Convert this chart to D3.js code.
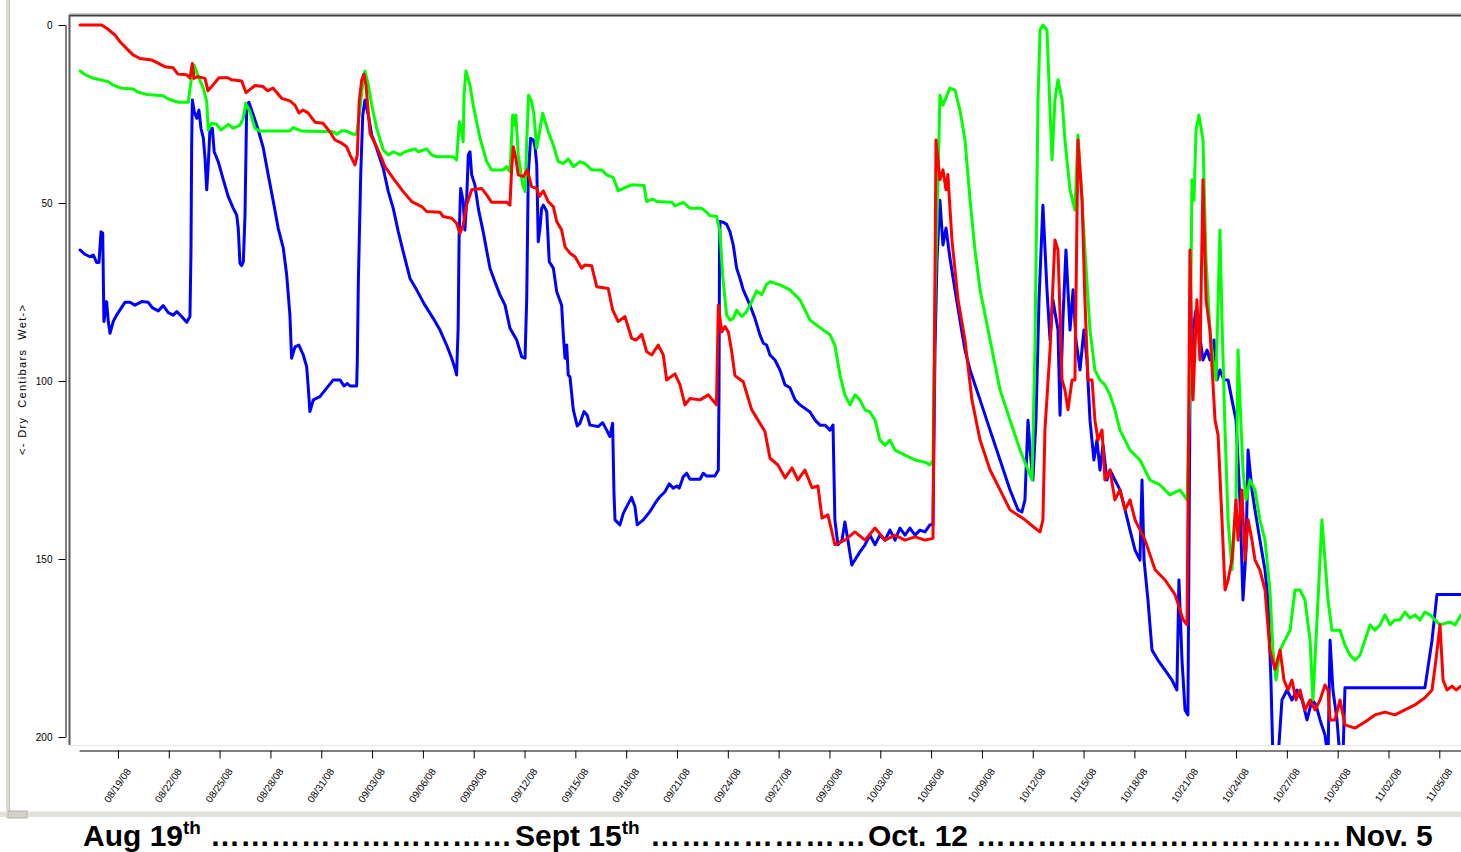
<!DOCTYPE html>
<html>
<head>
<meta charset="utf-8">
<script src="https://cdn.jsdelivr.net/npm/d3@7"></script>
<style>
  body { margin: 0; background: #fff; }
  svg { display: block; font-family: Arial, "Liberation Sans", sans-serif; }
</style>
</head>
<body>
<svg id="chart" width="1461" height="852"></svg>
<script>
// Soil moisture tension, centibars (0 = wet, 200 = dry).
// Each point is [days after 08/19/08 00:00, centibars].
const blueSeries = [
  [-2.24,63.2],[-1.95,64.4],[-1.65,65.1],[-1.46,64.6],[-1.26,66.7],[-1.12,66.7],[-1.00,58.1],[-0.90,58.5],
  [-0.83,83.3],[-0.67,77.7],[-0.57,83.3],[-0.47,86.6],[-0.28,83.3],[-0.08,81.5],[0.41,77.9],[0.71,77.9],
  [1.00,78.7],[1.40,77.7],[1.79,77.9],[2.02,79.4],[2.38,80.3],[2.67,78.8],[2.97,80.8],[3.26,81.5],
  [3.47,80.5],[3.76,81.9],[4.06,83.5],[4.25,81.9],[4.31,63.7],[4.35,34.6],[4.39,21.1],[4.50,24.3],
  [4.65,26.2],[4.78,23.9],[4.90,29.0],[5.04,31.8],[5.14,37.5],[5.24,46.3],[5.33,39.3],[5.43,29.5],
  [5.57,29.0],[5.68,35.6],[5.92,38.4],[6.22,43.5],[6.51,48.2],[6.81,51.5],[7.01,53.4],[7.10,57.1],
  [7.20,66.9],[7.30,67.6],[7.40,66.5],[7.50,53.4],[7.60,22.5],[7.73,21.7],[7.99,25.3],[8.28,29.5],
  [8.58,34.6],[8.87,42.1],[9.17,49.6],[9.46,57.1],[9.76,62.7],[9.96,70.2],[10.15,81.5],[10.25,93.6],
  [10.45,90.4],[10.68,89.9],[10.94,92.7],[11.14,96.0],[11.23,101.6],[11.33,108.6],[11.53,105.3],[11.92,104.4],
  [12.32,102.0],[12.71,99.7],[13.11,99.7],[13.34,101.4],[13.54,100.7],[13.70,101.4],[14.09,101.4],[14.13,94.1],
  [14.19,72.1],[14.33,42.1],[14.45,25.3],[14.58,21.1],[14.78,25.3],[14.98,30.9],[15.27,34.6],[15.66,40.3],
  [15.96,46.8],[16.25,51.5],[16.55,58.1],[16.84,63.7],[17.24,71.2],[17.63,74.4],[18.12,78.7],[18.61,82.4],
  [19.01,85.7],[19.40,89.9],[19.70,93.6],[19.89,96.4],[19.99,98.3],[20.08,85.2],[20.14,59.0],[20.23,45.9],
  [20.38,49.6],[20.48,57.6],[20.58,49.6],[20.68,36.5],[20.78,35.6],[20.88,42.1],[21.07,44.9],[21.27,51.5],
  [21.56,58.1],[21.96,68.3],[22.25,72.1],[22.55,75.8],[22.85,78.7],[23.14,85.2],[23.54,88.5],[23.83,93.2],
  [24.03,93.6],[24.13,76.8],[24.22,42.1],[24.36,31.8],[24.52,32.3],[24.62,34.2],[24.72,39.3],[24.81,60.9],
  [24.91,57.1],[25.01,51.5],[25.11,50.6],[25.31,52.4],[25.46,66.5],[25.70,68.3],[25.90,74.9],[26.19,78.7],
  [26.29,87.1],[26.39,93.6],[26.49,89.9],[26.58,98.3],[26.68,98.8],[26.88,108.1],[27.11,112.6],[27.27,111.9],
  [27.51,108.6],[27.70,109.6],[27.86,112.4],[28.35,112.8],[28.61,111.7],[28.85,113.8],[29.04,115.6],[29.20,111.9],
  [29.28,131.5],[29.34,139.0],[29.63,140.4],[29.83,137.2],[30.03,135.3],[30.32,132.7],[30.52,135.3],[30.65,140.4],
  [31.01,139.0],[31.40,136.7],[31.70,134.4],[31.99,132.5],[32.29,131.1],[32.54,128.9],[32.78,130.1],[32.98,129.5],
  [33.13,130.1],[33.37,126.9],[33.57,125.9],[33.77,127.6],[34.36,127.6],[34.55,125.9],[34.75,126.7],[35.24,126.7],
  [35.44,125.0],[35.48,103.5],[35.51,62.7],[35.54,55.2],[35.73,55.4],[35.93,56.0],[36.13,58.1],[36.32,61.8],
  [36.52,68.3],[36.72,71.2],[36.91,74.4],[37.31,78.7],[37.60,82.4],[37.90,87.1],[38.10,89.4],[38.29,89.9],
  [38.49,92.7],[38.78,94.1],[39.08,96.9],[39.38,101.1],[39.67,101.9],[39.97,105.3],[40.26,106.7],[40.85,108.7],
  [41.15,111.0],[41.44,112.4],[41.74,112.4],[42.03,113.8],[42.21,112.4],[42.32,139.0],[42.50,146.0],[42.74,144.7],
  [42.91,139.6],[43.09,144.7],[43.32,151.7],[43.50,150.3],[43.80,148.0],[44.10,146.0],[44.39,143.3],[44.69,146.0],
  [44.98,143.3],[45.28,144.7],[45.57,141.9],[45.87,144.7],[46.16,141.3],[46.46,143.3],[46.75,141.3],[47.05,143.3],
  [47.34,141.9],[47.64,142.4],[47.93,140.4],[48.11,140.4],[48.23,91.3],[48.35,66.0],[48.52,49.2],[48.70,61.8],
  [48.88,57.0],[49.11,65.4],[49.41,74.4],[49.70,82.9],[50.00,91.3],[50.30,96.9],[50.89,105.3],[51.48,113.8],
  [52.07,122.2],[52.66,130.6],[53.13,136.2],[53.36,136.8],[53.54,133.4],[53.72,111.0],[53.84,119.4],[54.01,127.8],
  [54.19,111.0],[54.37,77.2],[54.60,50.6],[54.84,74.4],[55.02,88.5],[55.19,77.2],[55.49,85.7],[55.61,109.6],
  [55.78,82.9],[55.96,63.2],[56.20,85.7],[56.38,74.4],[56.55,88.5],[56.79,96.9],[57.02,85.7],[57.20,94.1],
  [57.38,111.0],[57.61,122.2],[57.79,116.6],[57.97,125.0],[58.15,118.0],[58.38,127.8],[58.56,125.0],[58.85,127.8],
  [59.15,130.6],[59.45,136.2],[59.74,141.9],[60.04,147.5],[60.33,150.3],[60.45,127.8],[60.57,150.3],[60.80,161.5],
  [61.04,175.6],[61.39,178.4],[61.81,181.2],[62.22,184.0],[62.51,186.8],[62.63,155.9],[62.81,178.4],[62.99,192.4],
  [63.16,193.8],[63.28,105.3],[63.46,85.7],[63.64,80.0],[63.81,85.7],[64.05,94.1],[64.29,91.3],[64.46,94.1],
  [64.70,88.5],[64.88,99.7],[65.05,96.9],[65.29,99.7],[65.53,99.7],[65.76,105.3],[66.00,111.0],[66.23,133.4],
  [66.41,161.5],[66.59,147.5],[66.71,119.4],[66.94,130.6],[67.12,136.2],[67.41,144.7],[67.71,153.1],[67.89,161.5],
  [68.06,184.0],[68.18,206.0],[68.48,206.0],[68.71,189.6],[69.01,186.8],[69.30,189.6],[69.60,186.8],[69.90,189.6],
  [70.19,195.2],[70.49,189.6],[70.72,191.0],[70.96,195.2],[71.25,199.4],[71.43,206.0],[71.55,172.8],[71.72,186.8],
  [71.96,195.2],[72.14,206.0],[72.31,206.0],[72.43,186.2],[77.15,186.2],[77.57,172.8],[77.86,160.0],[79.28,160.0]
];

const redSeries = [
  [-2.24,0],[-0.96,0],[-0.67,0.9],[-0.18,2.8],[0.12,4.7],[0.59,7.0],[0.89,8.4],[1.30,9.4],
  [1.99,9.8],[2.36,10.7],[2.77,11.7],[3.25,12.0],[3.54,13.8],[4.06,14.0],[4.25,14.9],[4.39,10.8],
  [4.49,15.0],[4.72,14.5],[5.14,15.0],[5.31,18.5],[5.53,17.3],[5.96,14.8],[6.49,14.8],[6.71,15.4],
  [7.30,15.7],[7.56,19.0],[8.09,17.0],[8.56,17.3],[8.84,18.5],[9.15,17.7],[9.66,20.6],[10.15,21.3],
  [10.45,22.5],[10.68,24.7],[10.92,23.9],[11.22,24.7],[11.63,27.3],[12.10,27.6],[12.51,30.0],[12.81,32.3],
  [13.21,33.2],[13.50,34.2],[13.70,36.5],[13.99,39.3],[14.13,36.5],[14.24,21.5],[14.39,15.4],[14.52,13.8],
  [14.64,16.9],[14.74,22.5],[14.88,30.4],[15.27,34.2],[15.57,37.5],[15.76,39.8],[16.25,43.1],[16.84,46.8],
  [17.34,49.6],[17.93,51.0],[18.22,52.4],[19.01,52.6],[19.20,53.8],[19.70,54.3],[19.99,55.7],[20.19,58.5],
  [20.38,56.2],[20.58,50.6],[20.88,46.3],[21.47,45.9],[21.77,47.8],[22.06,49.8],[22.95,49.8],[23.14,50.6],
  [23.24,40.3],[23.34,34.2],[23.49,37.5],[23.63,42.1],[23.93,42.6],[24.16,40.7],[24.42,45.4],[24.72,45.9],
  [24.87,48.2],[25.11,46.6],[25.40,49.6],[25.70,51.0],[25.90,55.2],[26.19,57.6],[26.39,62.3],[26.68,64.1],
  [26.98,65.1],[27.37,68.3],[27.57,67.4],[27.96,67.6],[28.26,73.5],[28.94,74.0],[29.20,80.0],[29.53,83.3],
  [29.93,81.9],[30.32,88.0],[30.58,88.5],[30.92,86.9],[31.21,91.8],[31.51,92.7],[31.89,89.9],[32.19,92.7],
  [32.39,99.7],[32.88,98.0],[33.18,101.1],[33.47,106.7],[33.77,104.9],[34.36,105.3],[34.85,103.9],[35.33,106.7],
  [35.44,78.7],[35.64,86.2],[35.83,84.7],[36.03,86.2],[36.23,91.8],[36.42,98.5],[36.91,100.2],[37.41,108.1],
  [37.90,111.9],[38.19,114.2],[38.49,121.7],[38.96,123.6],[39.38,127.2],[39.79,124.4],[40.14,127.8],[40.55,125.0],
  [40.97,130.0],[41.32,129.5],[41.56,138.5],[41.91,137.6],[42.32,146.0],[42.91,144.7],[43.50,142.4],[44.10,144.7],
  [44.69,141.3],[45.28,144.7],[45.87,143.3],[46.46,144.7],[47.05,143.8],[47.64,144.7],[48.11,144.2],[48.29,32.3],
  [48.52,43.5],[48.70,40.7],[48.88,46.3],[48.99,42.0],[49.23,60.4],[49.59,77.2],[50.00,88.5],[50.41,105.3],
  [50.89,116.6],[51.48,125.0],[52.07,130.6],[52.66,136.2],[53.54,139.0],[54.13,141.3],[54.43,142.4],[54.60,139.0],
  [54.72,113.8],[55.02,91.3],[55.31,60.4],[55.49,63.2],[55.73,99.7],[55.90,102.5],[56.08,108.1],[56.32,99.7],
  [56.49,99.7],[56.67,32.3],[56.91,49.2],[57.08,77.2],[57.26,99.7],[57.50,99.7],[57.67,111.0],[57.85,116.6],
  [58.09,113.8],[58.26,127.8],[58.56,125.0],[58.85,133.4],[59.15,130.6],[59.45,136.2],[59.74,133.4],[60.04,139.0],
  [60.63,144.7],[61.22,153.0],[61.81,155.9],[62.40,160.0],[62.87,167.0],[63.11,168.5],[63.28,63.2],[63.46,105.3],
  [63.69,77.2],[63.87,94.1],[64.05,43.5],[64.23,77.2],[64.46,85.7],[64.76,111.0],[64.94,115.2],[65.17,139.0],
  [65.35,158.7],[65.53,155.9],[65.76,150.3],[66.00,133.4],[66.12,144.7],[66.35,130.6],[66.53,150.3],[66.71,139.0],
  [66.94,144.7],[67.12,150.3],[67.41,153.1],[67.71,158.7],[68.00,175.6],[68.30,181.0],[68.60,175.6],[68.83,184.0],
  [69.07,186.8],[69.30,184.0],[69.54,189.6],[69.78,186.8],[70.07,192.4],[70.37,189.6],[70.66,192.4],[70.96,189.6],
  [71.25,185.4],[71.43,186.8],[71.55,195.2],[71.84,195.2],[72.14,189.6],[72.43,196.6],[73.02,197.5],[73.61,195.8],
  [74.20,193.8],[74.79,193.0],[75.38,193.8],[75.97,192.4],[76.56,191.0],[77.15,189.0],[77.57,186.8],[77.80,178.4],
  [78.04,168.5],[78.22,184.0],[78.45,186.8],[78.75,185.7],[78.99,186.8],[79.28,185.7]
];

const greenSeries = [
  [-2.24,12.9],[-1.95,13.9],[-1.55,14.8],[-1.06,15.4],[-0.57,15.9],[-0.28,16.9],[0.22,17.8],[0.90,18.0],
  [1.20,18.9],[1.69,19.5],[2.67,19.9],[2.97,20.8],[3.56,21.7],[4.15,21.7],[4.31,15.9],[4.50,11.4],
  [4.74,14.5],[5.04,17.8],[5.24,21.5],[5.33,29.5],[5.53,27.6],[5.83,27.9],[6.08,29.5],[6.51,27.9],
  [6.80,29.0],[7.20,28.1],[7.40,26.2],[7.54,22.0],[7.79,24.3],[8.09,29.0],[8.38,29.8],[10.15,29.8],
  [10.35,28.8],[10.84,29.8],[12.71,30.0],[12.91,30.7],[13.21,29.7],[13.50,29.8],[13.89,30.7],[14.09,30.7],
  [14.29,23.4],[14.48,15.0],[14.58,12.9],[14.78,16.9],[14.98,22.5],[15.27,29.0],[15.66,35.1],[15.96,36.5],
  [16.25,35.6],[16.65,36.5],[16.94,35.6],[17.53,34.8],[17.73,35.6],[18.22,34.8],[18.52,36.5],[18.81,37.0],
  [19.79,37.0],[19.99,37.9],[20.15,27.2],[20.29,30.0],[20.38,32.8],[20.43,19.7],[20.54,12.9],[20.78,16.9],
  [20.97,22.5],[21.37,31.8],[21.77,38.4],[22.06,40.7],[22.74,40.7],[22.94,39.8],[23.14,41.2],[23.30,25.3],
  [23.43,28.1],[23.49,25.3],[23.63,36.5],[23.89,44.9],[24.03,46.8],[24.13,32.8],[24.24,19.7],[24.42,21.5],
  [24.55,25.0],[24.72,34.6],[25.07,24.8],[25.40,30.0],[25.70,33.7],[25.99,38.4],[26.29,38.9],[26.58,37.6],
  [26.88,39.8],[27.27,38.4],[27.57,38.9],[27.96,40.7],[28.55,40.7],[28.85,42.1],[29.24,42.9],[29.53,46.6],
  [29.93,45.7],[30.32,44.9],[31.05,45.1],[31.21,49.6],[31.57,48.9],[31.80,49.6],[32.69,49.8],[32.88,50.8],
  [33.37,49.8],[33.77,51.5],[34.46,51.5],[34.75,52.6],[34.95,53.6],[35.34,53.8],[35.54,58.1],[35.69,70.2],
  [35.93,81.5],[36.13,82.9],[36.32,82.4],[36.52,80.1],[36.82,81.9],[37.11,80.5],[37.41,77.7],[37.70,74.7],
  [38.00,75.8],[38.29,72.8],[38.49,72.1],[39.08,73.0],[39.67,74.4],[40.26,77.2],[40.85,82.9],[41.44,85.0],
  [42.03,87.0],[42.32,89.9],[42.62,98.3],[42.91,103.9],[43.21,106.7],[43.51,103.9],[43.80,105.3],[44.10,108.1],
  [44.39,108.7],[44.69,111.0],[44.98,116.6],[45.28,118.0],[45.57,116.6],[45.87,119.4],[46.46,120.8],[47.05,122.2],
  [47.64,122.8],[47.93,123.6],[48.11,122.2],[48.23,77.2],[48.41,43.5],[48.52,19.7],[48.70,22.5],[48.94,19.7],
  [49.11,17.7],[49.41,18.3],[49.70,23.9],[50.00,32.3],[50.30,49.2],[50.59,63.2],[50.89,74.4],[51.48,88.5],
  [52.07,102.5],[52.66,111.0],[53.25,119.4],[53.72,125.0],[53.96,127.8],[54.13,91.3],[54.31,21.0],[54.43,1.4],
  [54.60,0],[54.84,1.4],[55.02,23.9],[55.14,37.9],[55.31,21.0],[55.49,15.4],[55.73,21.0],[55.90,32.3],
  [56.20,46.3],[56.49,52.0],[56.67,30.9],[56.91,49.2],[57.08,63.2],[57.38,85.7],[57.67,97.0],[57.97,99.7],
  [58.26,101.1],[58.56,103.9],[58.85,108.1],[59.15,113.8],[59.74,119.4],[60.33,122.2],[60.92,127.8],[61.51,129.2],
  [62.10,132.0],[62.69,130.6],[63.11,133.4],[63.28,99.7],[63.40,43.5],[63.52,49.2],[63.64,29.5],[63.81,25.3],
  [64.05,32.3],[64.23,66.0],[64.46,85.7],[64.64,94.1],[64.82,99.7],[65.05,57.6],[65.17,82.9],[65.35,113.8],
  [65.53,139.0],[65.76,153.0],[66.00,133.4],[66.12,91.3],[66.23,105.3],[66.41,125.0],[66.59,133.4],[66.82,127.8],
  [67.12,130.6],[67.41,139.0],[67.71,144.7],[68.00,158.7],[68.18,175.6],[68.36,184.0],[68.60,175.6],[68.89,172.8],
  [69.19,170.0],[69.48,158.7],[69.78,158.7],[70.07,161.5],[70.37,172.8],[70.54,189.6],[70.66,178.4],[70.84,161.5],
  [71.07,139.0],[71.25,150.3],[71.43,161.5],[71.66,170.0],[72.14,170.0],[72.43,174.2],[72.73,177.0],[73.02,178.4],
  [73.32,177.0],[73.61,172.8],[73.91,168.5],[74.20,170.0],[74.50,168.5],[74.79,165.7],[75.09,168.5],[75.38,167.1],
  [75.68,167.1],[75.97,164.9],[76.27,166.6],[76.56,165.7],[76.86,167.1],[77.15,164.9],[77.45,165.7],[77.74,167.1],
  [78.04,168.5],[78.63,167.7],[78.93,168.5],[79.28,165.7]
];

const tickLabels = [
  "08/19/08","08/22/08","08/25/08","08/28/08","08/31/08","09/03/08","09/06/08","09/09/08","09/12/08",
  "09/15/08","09/18/08","09/21/08","09/24/08","09/27/08","09/30/08","10/03/08","10/06/08","10/09/08",
  "10/12/08","10/15/08","10/18/08","10/21/08","10/24/08","10/27/08","10/30/08","11/02/08","11/05/08"
];
const yTicks = [0, 50, 100, 150, 200];
const yTitle = "<- Dry  Centibars  Wet->";

// Season caption under the chart
const captionParts = [
  { text: "Aug 19", sup: "th", x: 83 },
  { dots: 10, x: 210, end: 512 },
  { text: "Sept 15", sup: "th", x: 515 },
  { dots: 7, x: 650, end: 866 },
  { text: "Oct. 12", x: 868 },
  { dots: 12, x: 976, end: 1342 },
  { text: "Nov. 5", x: 1345 }
];

const series = [
  { name: "blue",  color: "#0000ff", data: blueSeries },
  { name: "green", color: "#00ff00", data: greenSeries },
  { name: "red",   color: "#ff0000", data: redSeries }
];

const svg = d3.select("#chart");
const W = 1461, H = 852;
const base = Date.UTC(2008, 7, 19);
const toDate = d => new Date(base + d * 864e5);
const parseTick = d3.utcParse("%m/%d/%y");

const x = d3.scaleUtc().domain([toDate(-2.3), toDate(79.28)]).range([79, 1461]);
const y = d3.scaleLinear().domain([0, 200]).range([25, 737]);

// window chrome: left strip and bottom scroll band
svg.append("rect").attr("x", 6).attr("y", 0).attr("width", 4).attr("height", 818).attr("fill", "#dcd9d2");
svg.append("line").attr("x1", 9.5).attr("x2", 9.5).attr("y1", 0).attr("y2", 818).attr("stroke", "#c4c1ba");
svg.append("rect").attr("x", 0).attr("y", 811).attr("width", W).attr("height", 6).attr("fill", "#e2e0db");
svg.append("line").attr("x1", 0).attr("x2", W).attr("y1", 811.5).attr("y2", 811.5).attr("stroke", "#f2f1ee");
svg.append("rect").attr("x", 8).attr("y", 811).attr("width", 19).attr("height", 7).attr("fill", "#d4d0c8").attr("stroke", "#b5b2ab");

// plot frame
svg.append("line").attr("x1", 69).attr("x2", W).attr("y1", 13.5).attr("y2", 13.5).attr("stroke", "#cfcfcf");
svg.append("line").attr("x1", 69).attr("x2", W).attr("y1", 15.5).attr("y2", 15.5).attr("stroke", "#3c3c3c").attr("stroke-width", 2);
svg.append("line").attr("x1", 69.5).attr("x2", 69.5).attr("y1", 15).attr("y2", 745).attr("stroke", "#5a5a5a").attr("stroke-width", 2);
svg.append("line").attr("x1", 70).attr("x2", W).attr("y1", 745.5).attr("y2", 745.5).attr("stroke", "#e6e6e6");

svg.append("clipPath").attr("id", "plotClip")
  .append("rect").attr("x", 71).attr("y", 17).attr("width", W - 71).attr("height", 728);

// data lines
const line = d3.line().x(d => x(toDate(d[0]))).y(d => y(d[1]));
svg.append("g").attr("clip-path", "url(#plotClip)")
  .selectAll("path").data(series).join("path")
  .attr("d", s => line(s.data))
  .attr("fill", "none")
  .attr("stroke", s => s.color)
  .attr("stroke-width", 3)
  .attr("stroke-linejoin", "round")
  .attr("stroke-linecap", "round");

// y axis
const yAxis = svg.append("g").attr("transform", "translate(65.5,0)")
  .call(d3.axisLeft(y).tickValues(yTicks).tickSize(7).tickSizeOuter(0).tickPadding(6));
yAxis.selectAll("text").attr("font-size", 10).attr("font-family", "Arial, 'Liberation Sans', sans-serif").attr("fill", "#000");
yAxis.selectAll("line,path").attr("stroke", "#000");

svg.append("text")
  .attr("transform", "translate(26,380) rotate(-90)")
  .attr("text-anchor", "middle")
  .attr("font-size", 11)
  .attr("textLength", 150)
  .attr("lengthAdjust", "spacing")
  .style("white-space", "pre")
  .text(yTitle);

// x axis
const xAxis = svg.append("g").attr("transform", "translate(0,750.5)")
  .call(d3.axisBottom(x).tickValues(tickLabels.map(parseTick))
    .tickFormat(d3.utcFormat("%m/%d/%y")).tickSize(8).tickSizeOuter(0));
xAxis.selectAll("line,path").attr("stroke", "#000");
xAxis.selectAll("text")
  .attr("x", 0).attr("y", 0).attr("dy", 0)
  .attr("text-anchor", "end")
  .attr("transform", "translate(13,21) rotate(-55)")
  .attr("font-size", 10)
  .attr("font-family", "Arial, 'Liberation Sans', sans-serif")
  .attr("fill", "#000");

// caption
const cap = svg.append("g").attr("font-weight", "bold").attr("fill", "#000");
captionParts.forEach(p => {
  if (p.dots) {
    cap.append("text").attr("x", p.x).attr("y", 846).attr("font-size", 30)
      .attr("textLength", p.end - p.x).attr("lengthAdjust", "spacing")
      .text("\u2026".repeat(p.dots));
  } else {
    const t = cap.append("text").attr("x", p.x).attr("y", 846).attr("font-size", 30).text(p.text);
    if (p.sup) {
      t.append("tspan").attr("font-size", 19).attr("dy", -12).text(p.sup);
    }
  }
});
</script>
</body>
</html>
